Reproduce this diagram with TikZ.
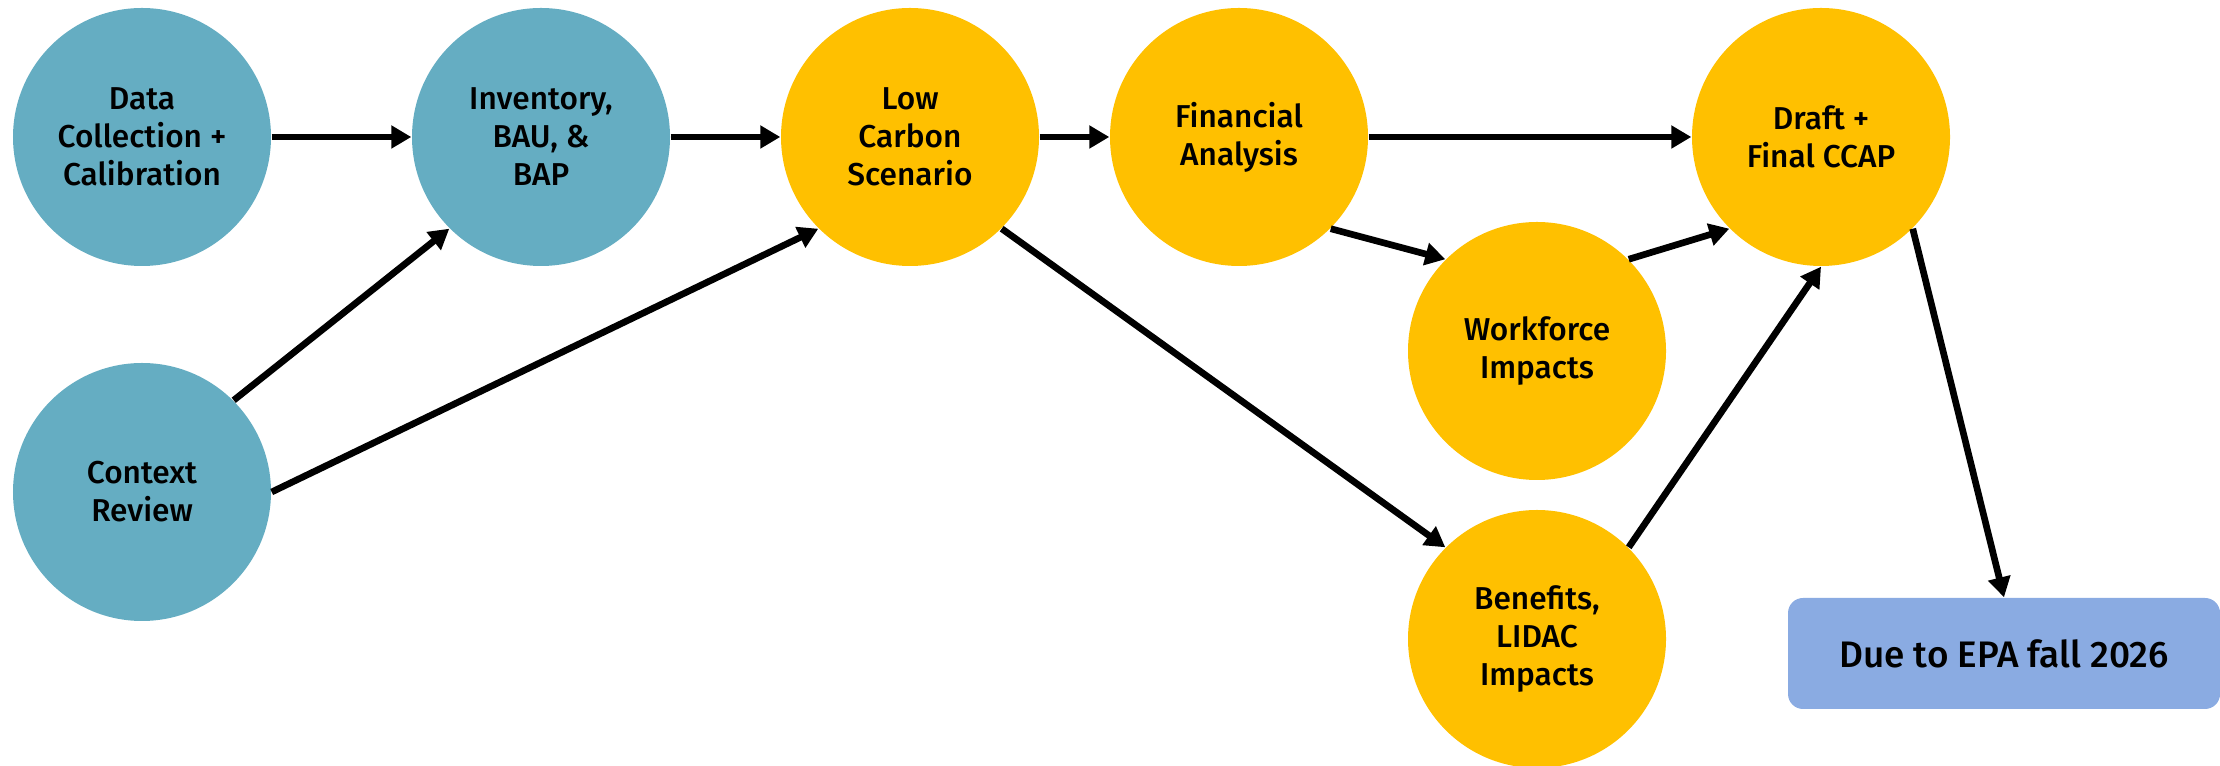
\documentclass[tikz,border=0pt]{standalone}
\usepackage{fontspec}
\setmainfont{Fira Sans}[UprightFont=* Medium]
\usetikzlibrary{arrows.meta}
\definecolor{tealfill}{RGB}{101,173,194}
\definecolor{goldfill}{RGB}{255,192,0}
\definecolor{duefill}{RGB}{138,171,226}
\begin{document}
\begin{tikzpicture}
  [every node/.style={circle,minimum size=2.58cm,inner sep=0pt,align=center,
     font=\fontsize{9}{10.8}\selectfont},
   arr/.style={line width=1.9pt,-{Triangle[length=0.2cm,width=0.22cm]}}]
  \tikzstyle{prep} = [fill=tealfill]
  \tikzstyle{plan} = [fill=goldfill]
  \useasboundingbox (0,0) rectangle (22.2,-7.66);
  \node[prep] (data)  at (1.42,-1.37)  {Data\\Collection +\\Calibration};
  \node[prep] (inv)   at (5.41,-1.37)  {Inventory,\\BAU, \&\\BAP};
  \node[prep] (ctx)   at (1.42,-4.92)  {Context\\Review};
  \node[plan] (low)   at (9.10,-1.37)  {Low\\Carbon\\Scenario};
  \node[plan] (fin)   at (12.39,-1.37) {Financial\\Analysis};
  \node[plan] (draft) at (18.21,-1.37) {Draft +\\Final CCAP};
  \node[plan] (work)  at (15.37,-3.51) {Workforce\\Impacts};
  \node[plan] (ben)   at (15.37,-6.39) {Benefits,\\LIDAC\\Impacts};
  \node[rectangle,rounded corners=0.15cm,fill=duefill,minimum width=4.32cm,
    minimum height=1.11cm,font=\fontsize{10.5}{12.6}\selectfont]
    (due) at (20.04,-6.535) {Due to EPA fall 2026};
\foreach \source /\dest in {data/inv,inv/low,low/fin,fin/draft,
    ctx.north east/inv.south west,ctx.east/low.south west,
    low.south east/ben.north west,fin.south east/work.north west,
    work.north east/draft.south west,ben.north east/draft.south,
    draft.south east/due.north}
   \draw[arr] (\source) -- (\dest);

\end{tikzpicture}
\end{document}
